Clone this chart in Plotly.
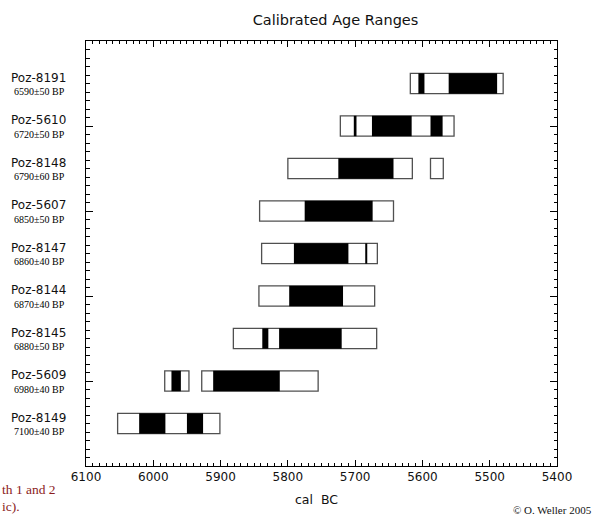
import plotly.graph_objects as go

# ---- data (cal BC) ----
samples = ["Poz-8191", "Poz-5610", "Poz-8148", "Poz-5607", "Poz-8147",
           "Poz-8144", "Poz-8145", "Poz-5609", "Poz-8149"]
bp_dates = ["6590±50 BP", "6720±50 BP", "6790±60 BP", "6850±50 BP", "6860±40 BP",
            "6870±40 BP", "6880±50 BP", "6980±40 BP", "7100±40 BP"]
# 2-sigma ranges (white boxes)
range_2sigma = [
    [(5618, 5480)],
    [(5722, 5553)],
    [(5800, 5615), (5588, 5569)],
    [(5842, 5643)],
    [(5839, 5667)],
    [(5843, 5671)],
    [(5881, 5668)],
    [(5983, 5947), (5928, 5755)],
    [(6053, 5901)],
]
# 1-sigma ranges (black boxes)
range_1sigma = [
    [(5606, 5597), (5561, 5489)],
    [(5702, 5698), (5675, 5616), (5588, 5570)],
    [(5725, 5643)],
    [(5775, 5674)],
    [(5791, 5710), (5685, 5682)],
    [(5798, 5718)],
    [(5838, 5829), (5813, 5720)],
    [(5973, 5959), (5911, 5812)],
    [(6021, 5982), (5950, 5926)],
]
x_ticks = [6100, 6000, 5900, 5800, 5700, 5600, 5500, 5400]

n = len(samples)
row_pos = [n - i for i in range(n)]  # top sample at 9, bottom at 1


def flatten(ranges):
    ys, bases, lens = [], [], []
    for pos, segs in zip(row_pos, ranges):
        for a, b in segs:
            lo, hi = min(a, b), max(a, b)
            ys.append(pos)
            bases.append(lo)
            lens.append(hi - lo)
    return ys, bases, lens


fig = go.Figure()

y2, b2, l2 = flatten(range_2sigma)
fig.add_trace(go.Bar(
    orientation="h", y=y2, x=l2, base=b2, width=0.48,
    marker=dict(color="white", line=dict(color="#505050", width=1.3)),
    hoverinfo="skip", showlegend=False,
))
y1, b1, l1 = flatten(range_1sigma)
fig.add_trace(go.Bar(
    orientation="h", y=y1, x=l1, base=b1, width=0.48,
    marker=dict(color="black", line=dict(color="black", width=0)),
    hoverinfo="skip", showlegend=False,
))

annotations = []
for pos, name, bp in zip(row_pos, samples, bp_dates):
    annotations.append(dict(
        x=0, xref="paper", xanchor="right", xshift=-18,
        y=pos, yref="y", yanchor="middle", yshift=6,
        text=name, showarrow=False,
        font=dict(family="DejaVu Sans", size=12, color="#111"),
    ))
    annotations.append(dict(
        x=0, xref="paper", xanchor="right", xshift=-19,
        y=pos, yref="y", yanchor="middle", yshift=-8,
        text=bp, showarrow=False,
        font=dict(family="Liberation Serif", size=10, color="#000"),
    ))

# axis title
annotations.append(dict(
    x=(316 - 86) / 471, xref="paper", xanchor="center",
    y=(466 - 499) / 425, yref="paper", yanchor="middle",
    text="cal  BC", showarrow=False,
    font=dict(family="DejaVu Sans", size=12.5, color="#111"),
))
# copyright
annotations.append(dict(
    x=1, xref="paper", xanchor="right", xshift=37,
    y=(466 - 510) / 425, yref="paper", yanchor="middle",
    text="© O. Weller 2005", showarrow=False,
    font=dict(family="Liberation Serif", size=11, color="#111"),
))
# cropped red page text
annotations.append(dict(
    x=(0 - 86) / 471, xref="paper", xanchor="left",
    y=(466 - 490) / 425, yref="paper", yanchor="middle",
    text="th 1 and 2", showarrow=False,
    font=dict(family="Liberation Serif", size=13.5, color="#8B1C1C"),
))
annotations.append(dict(
    x=(0 - 86) / 471, xref="paper", xanchor="left",
    y=(466 - 506) / 425, yref="paper", yanchor="middle",
    text="ic).", showarrow=False,
    font=dict(family="Liberation Serif", size=13.5, color="#8B1C1C"),
))

fig.update_layout(
    width=595, height=518,
    margin=dict(l=86, r=38, t=41, b=52),
    paper_bgcolor="white", plot_bgcolor="white",
    barmode="overlay",
    title=dict(text="Calibrated Age Ranges", xref="container", x=335.5 / 595,
               xanchor="center", yref="container", y=1 - 20 / 518, yanchor="middle",
               font=dict(family="DejaVu Sans", size=14.5, color="#111")),
    xaxis=dict(
        range=[6100, 5400], tickvals=x_ticks, ticktext=[str(v) for v in x_ticks],
        ticks="inside", ticklen=6, tickwidth=1, tickcolor="black",
        minor=dict(dtick=10, ticks="inside", ticklen=3, tickcolor="black", tickwidth=1),
        showline=True, linecolor="black", linewidth=1, mirror="ticks",
        showgrid=False, zeroline=False, fixedrange=True,
        tickfont=dict(family="DejaVu Sans", size=12, color="#111"),
    ),
    yaxis=dict(
        range=[0, 10], tickvals=[0, 2, 4, 6, 8, 10], showticklabels=False,
        ticks="inside", ticklen=7, tickwidth=1, tickcolor="black",
        minor=dict(dtick=0.2, ticks="inside", ticklen=3.5, tickcolor="black", tickwidth=1),
        showline=True, linecolor="black", linewidth=1, mirror="ticks",
        showgrid=False, zeroline=False, fixedrange=True,
    ),
    annotations=annotations,
)

fig.write_html(
    "out.html",
    config={"displayModeBar": False},
    post_script="document.body.style.margin='0';document.body.style.overflow='hidden';",
)
